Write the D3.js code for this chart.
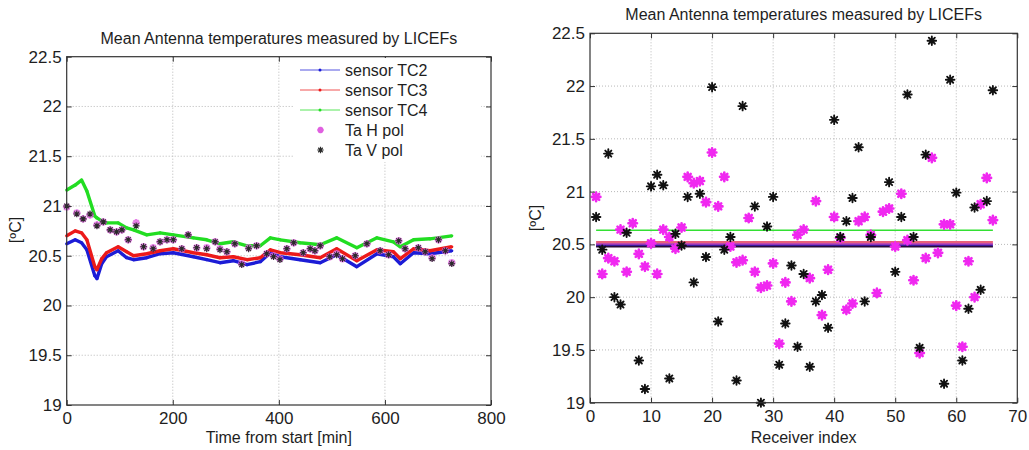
<!DOCTYPE html>
<html><head><meta charset="utf-8">
<script src="https://cdn.jsdelivr.net/npm/d3@7"></script>
<style>
body{margin:0;background:#fff;}
text{font-family:"Liberation Sans",Arial,sans-serif;fill:#1e1e1e;}
</style>
</head><body>
<svg id="c" width="1029" height="450"></svg>
<script>
// ---------- DATA: left panel (time series) ----------
const timeMin = [0,16,28,38,53,57,66,75,97,113,126,151,176,201,239,264,289,314,340,365,384,403,440,478,509,547,585,616,629,654,685,726];
const tc2 = [20.62,20.66,20.63,20.56,20.30,20.27,20.42,20.49,20.55,20.48,20.46,20.48,20.52,20.53,20.49,20.46,20.43,20.45,20.41,20.44,20.53,20.49,20.46,20.43,20.51,20.39,20.52,20.49,20.42,20.53,20.52,20.55];
const tc3 = [20.70,20.75,20.73,20.66,20.39,20.36,20.47,20.53,20.59,20.54,20.50,20.52,20.55,20.57,20.53,20.51,20.48,20.49,20.46,20.48,20.56,20.53,20.51,20.48,20.57,20.45,20.56,20.54,20.47,20.57,20.55,20.59];
const tc4 = [21.16,21.21,21.26,21.15,20.90,20.88,20.85,20.83,20.83,20.78,20.76,20.71,20.73,20.71,20.68,20.66,20.62,20.64,20.60,20.60,20.68,20.66,20.63,20.61,20.68,20.58,20.68,20.64,20.59,20.66,20.67,20.70];
const taTime = [0,19,31,44,57,69,82,94,104,116,131,145,163,176,189,201,217,229,245,264,280,289,302,317,330,343,358,377,390,402,415,428,446,459,468,478,496,509,520,544,566,591,607,626,638,663,676,689,701,714,726];
const taH = [20.99,20.93,20.87,20.91,20.81,20.84,20.76,20.74,20.76,20.66,20.83,20.59,20.58,20.64,20.66,20.66,20.57,20.71,20.58,20.58,20.64,20.57,20.54,20.62,20.42,20.58,20.60,20.52,20.50,20.47,20.57,20.63,20.53,20.57,20.55,20.60,20.49,20.52,20.47,20.50,20.62,20.55,20.51,20.65,20.57,20.58,20.54,20.48,20.66,20.55,20.43];
const taV = [21.00,20.92,20.87,20.92,20.80,20.84,20.76,20.74,20.76,20.66,20.80,20.59,20.57,20.64,20.66,20.66,20.57,20.71,20.58,20.57,20.64,20.56,20.54,20.62,20.41,20.57,20.60,20.52,20.49,20.46,20.57,20.63,20.53,20.57,20.55,20.60,20.49,20.51,20.47,20.50,20.62,20.55,20.51,20.65,20.57,20.58,20.54,20.47,20.66,20.55,20.42];

// ---------- DATA: right panel (per receiver) ----------
const receiverIdx = d3.range(1, 67);
const recH = [20.95,20.22,20.37,20.34,20.64,20.24,20.70,20.41,20.29,20.51,20.22,20.64,20.57,20.46,20.66,21.14,21.08,21.10,20.90,21.37,20.86,21.14,20.48,20.33,20.35,20.75,20.24,20.09,20.11,20.32,19.56,20.14,19.96,20.59,20.64,20.18,20.91,19.83,20.26,20.76,20.56,19.88,19.94,20.72,20.76,20.59,20.04,20.81,20.84,20.48,20.98,20.54,20.16,19.47,20.37,21.32,20.42,20.69,20.69,19.92,19.53,20.34,20.00,20.88,21.13,20.73];
const recV = [20.76,20.45,21.36,20.00,19.93,20.61,null,19.40,19.13,21.05,21.16,21.06,19.23,20.60,20.49,20.95,20.14,20.98,20.38,21.99,19.77,20.45,20.57,19.21,21.81,null,20.86,19.00,20.67,20.95,19.36,19.75,20.30,19.53,20.22,19.34,19.96,20.02,19.71,21.68,20.57,20.72,20.94,21.42,19.96,20.57,null,null,21.09,20.24,20.76,21.92,20.57,19.52,21.35,22.43,null,19.18,22.06,20.99,19.40,19.89,20.85,20.07,20.91,21.96];
const meanNames = ["TC4","TC3","Ta H","TC2","Ta V"];
const meanLevels = [20.635,20.518,20.500,20.487,20.478];
const meanRange = [1, 66];

// ---------- ticks / labels ----------
const yTicks = [19,19.5,20,20.5,21,21.5,22,22.5];
const xTicksLeft = [0,200,400,600,800];
const xTicksRight = [0,10,20,30,40,50,60,70];
const titleText = "Mean Antenna temperatures measured by LICEFs";
const yLabelText = "[ºC]";
const xLabelLeft = "Time from start [min]";
const xLabelRight = "Receiver index";
const legendNames = ["sensor TC2","sensor TC3","sensor TC4","Ta H pol","Ta V pol"];

// ---------- styling ----------
const colTC2 = "#1c1cd6", colTC3 = "#ec1a1a", colTC4 = "#22dd22", colH = "#f028f0", colV = "#111111";
const svg = d3.select("#c");

function asterisk(s){
  const d = s*0.7071;
  return `M${-s},0L${s},0M0,${-s}L0,${s}M${-d},${-d}L${d},${d}M${-d},${d}L${d},${-d}`;
}

function frame(g, x, y, xt, w, h){
  // grid
  g.append("g").selectAll("line").data(xt.filter(v=>v!==xt[0]&&v!==xt[xt.length-1])).join("line")
    .attr("x1",d=>x(d)).attr("x2",d=>x(d)).attr("y1",0).attr("y2",h)
    .attr("stroke","#b8b8b8").attr("stroke-width",1).attr("stroke-dasharray","1,2");
  g.append("g").selectAll("line").data(yTicks.filter(v=>v!==19&&v!==22.5)).join("line")
    .attr("x1",0).attr("x2",w).attr("y1",d=>y(d)).attr("y2",d=>y(d))
    .attr("stroke","#b8b8b8").attr("stroke-width",1).attr("stroke-dasharray","1,2");
}
function axes(g, x, y, xt, w, h){
  const fmt = d3.format("");
  const ab = g.append("g").attr("transform",`translate(0,${h})`)
    .call(d3.axisBottom(x).tickValues(xt).tickSizeInner(-5).tickSizeOuter(0).tickPadding(7).tickFormat(d=>String(d)));
  const at = g.append("g").call(d3.axisTop(x).tickValues(xt).tickSizeInner(-5).tickSizeOuter(0).tickFormat(""));
  const al = g.append("g").call(d3.axisLeft(y).tickValues(yTicks).tickSizeInner(-5).tickSizeOuter(0).tickPadding(5).tickFormat(d=>String(d)));
  const ar = g.append("g").attr("transform",`translate(${w},0)`)
    .call(d3.axisRight(y).tickValues(yTicks).tickSizeInner(-5).tickSizeOuter(0).tickFormat(""));
  [ab,at,al,ar].forEach(a=>{
    a.select(".domain").remove();
    a.selectAll("line").attr("stroke","#333");
    a.selectAll("text").style("font-size","17px").attr("fill","#1e1e1e").style("font-family","'Liberation Sans',Arial,sans-serif");
  });
  g.append("rect").attr("x",0).attr("y",0).attr("width",w).attr("height",h)
    .attr("fill","none").attr("stroke","#333").attr("stroke-width",1.2);
}

// ================= LEFT PANEL =================
{
  const L = {x:66.7, y:56.7, w:424.3, h:348.3};
  const g = svg.append("g").attr("transform",`translate(${L.x},${L.y})`);
  const x = d3.scaleLinear().domain([0,800]).range([0,L.w]);
  const y = d3.scaleLinear().domain([19,22.5]).range([L.h,0]);
  frame(g,x,y,xTicksLeft,L.w,L.h);

  const line = d3.line().x(d=>x(d[0])).y(d=>y(d[1]));
  [[tc2,colTC2],[tc3,colTC3],[tc4,colTC4]].forEach(([vals,col])=>{
    const pts = timeMin.map((t,i)=>[t,vals[i]]);
    g.append("path").attr("d",line(pts)).attr("fill","none").attr("stroke",col)
      .attr("stroke-width",3.4).attr("stroke-linejoin","round");
    g.append("g").selectAll("circle").data(pts).join("circle")
      .attr("cx",d=>x(d[0])).attr("cy",d=>y(d[1])).attr("r",1.6).attr("fill",col);
  });
  g.append("g").selectAll("path").data(taTime.map((t,i)=>[t,taH[i]])).join("path")
    .attr("transform",d=>`translate(${x(d[0])},${y(d[1])})`).attr("d",asterisk(3.8))
    .attr("stroke","#e060e0").attr("stroke-width",2.2).attr("opacity",0.8);
  g.append("g").selectAll("path").data(taTime.map((t,i)=>[t,taV[i]])).join("path")
    .attr("transform",d=>`translate(${x(d[0])},${y(d[1])})`).attr("d",asterisk(3.4))
    .attr("stroke","#2a2a2a").attr("stroke-width",1.1);

  axes(g,x,y,xTicksLeft,L.w,L.h);

  // legend
  const lg = svg.append("g");
  lg.append("rect").attr("x",293).attr("y",58).attr("width",188).attr("height",104).attr("fill","#fff");
  const lcols = [colTC2,colTC3,colTC4];
  legendNames.forEach((n,i)=>{
    const cy = 70 + i*20;
    if(i<3){
      lg.append("line").attr("x1",300).attr("x2",340).attr("y1",cy).attr("y2",cy)
        .attr("stroke",lcols[i]).attr("stroke-width",1).attr("opacity",0.75);
      lg.append("circle").attr("cx",320).attr("cy",cy).attr("r",1.5).attr("fill",lcols[i]);
    } else if(i===3){
      lg.append("path").attr("transform",`translate(320.5,${cy})`).attr("d",asterisk(3.2))
        .attr("stroke","#e060e0").attr("stroke-width",2);
    } else {
      lg.append("path").attr("transform",`translate(320.5,${cy})`).attr("d",asterisk(3.2))
        .attr("stroke","#2a2a2a").attr("stroke-width",1.2);
    }
    lg.append("text").attr("x",345).attr("y",cy+6).style("font-size","16px").text(n);
  });

  svg.append("text").attr("x",L.x+L.w/2).attr("y",44).attr("text-anchor","middle").style("font-size","16px").text(titleText);
  svg.append("text").attr("x",L.x+L.w/2).attr("y",443).attr("text-anchor","middle").style("font-size","16px").text(xLabelLeft);
  svg.append("text").attr("transform","translate(21,230) rotate(-90)").attr("text-anchor","middle").style("font-size","16px").text(yLabelText);
}

// ================= RIGHT PANEL =================
{
  const R = {x:590, y:33.3, w:427.3, h:369.4};
  const g = svg.append("g").attr("transform",`translate(${R.x},${R.y})`);
  const x = d3.scaleLinear().domain([0,70]).range([0,R.w]);
  const y = d3.scaleLinear().domain([19,22.5]).range([R.h,0]);
  frame(g,x,y,xTicksRight,R.w,R.h);

  const meanCols = ["#33e033","#e8607a","#b040c0","#3a1aa0","#2a0a3a"];
  const meanW = [1.5,3,2.2,2.2,1.6];
  meanLevels.forEach((v,i)=>{
    g.append("line").attr("x1",x(meanRange[0])).attr("x2",x(meanRange[1]))
      .attr("y1",y(v)).attr("y2",y(v)).attr("stroke",meanCols[i]).attr("stroke-width",meanW[i]);
  });

  const clip = g.append("clipPath").attr("id","clipR").append("rect").attr("x",0).attr("y",-5).attr("width",R.w).attr("height",R.h+10);
  const pg = g.append("g").attr("clip-path","url(#clipR)");
  pg.append("g").selectAll("path").data(receiverIdx.map((r,i)=>[r,recH[i]])).join("path")
    .attr("transform",d=>`translate(${x(d[0])},${y(d[1])})`).attr("d",asterisk(4.3))
    .attr("stroke",colH).attr("stroke-width",2.6).attr("stroke-linecap","round");
  pg.append("g").selectAll("path").data(receiverIdx.map((r,i)=>[r,recV[i]]).filter(d=>d[1]!=null)).join("path")
    .attr("transform",d=>`translate(${x(d[0])},${y(d[1])})`).attr("d",asterisk(4.3))
    .attr("stroke",colV).attr("stroke-width",1.9).attr("stroke-linecap","round");

  axes(g,x,y,xTicksRight,R.w,R.h);

  svg.append("text").attr("x",R.x+R.w/2).attr("y",20).attr("text-anchor","middle").style("font-size","16px").text(titleText);
  svg.append("text").attr("x",R.x+R.w/2).attr("y",443).attr("text-anchor","middle").style("font-size","16px").text(xLabelRight);
  svg.append("text").attr("transform","translate(541,218) rotate(-90)").attr("text-anchor","middle").style("font-size","16px").text(yLabelText);
}
</script>
</body></html>
